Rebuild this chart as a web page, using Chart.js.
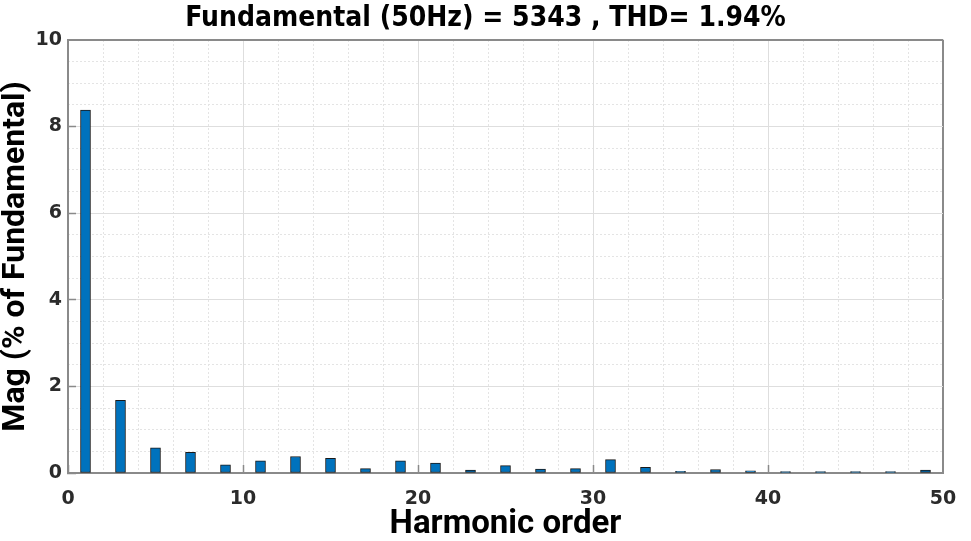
<!DOCTYPE html>
<html>
<head>
<meta charset="utf-8">
<script src="https://cdn.jsdelivr.net/npm/chart.js@4.4.1/dist/chart.umd.min.js"></script>
<style>
  html, body { margin: 0; padding: 0; background: #fff; }
  #wrap { width: 971px; height: 541px; }
</style>
</head>
<body>
<div id="wrap"><canvas id="thd" width="971" height="541"></canvas></div>
<script>
// FFT harmonic spectrum (odd harmonics only)

const harmonics = [1, 3, 5, 7, 9, 11, 13, 15, 17, 19, 21, 23, 25, 27, 29, 31, 33, 35, 37, 39, 41, 43, 45, 47, 49];
const magnitudes = [8.38, 1.68, 0.58, 0.48, 0.19, 0.28, 0.38, 0.34, 0.10, 0.28, 0.23, 0.07, 0.17,
  0.09, 0.10, 0.31, 0.13, 0.04, 0.08, 0.05, 0.03, 0.03, 0.03, 0.03, 0.07];
const xTicks = [0, 10, 20, 30, 40, 50];
const yTicks = [0, 2, 4, 6, 8, 10];

const titleText = "Fundamental (50Hz) = 5343 , THD= 1.94%";
const xTitle = "Harmonic order";
const yTitle = "Mag (% of Fundamental)";

const barColor = "#0072BD";
const axisColor = "#8a8a8a";
const gridColor = "#dedede";
const minorColor = "#e4e4e4";
const tickColor = "#2b2b2b";

const points = harmonics.map((h, i) => ({ x: h, y: magnitudes[i] }));

function setTicks(list) {
  return (scale) => { scale.ticks = list.map((v) => ({ value: v })); };
}

// last major line doubles as the top / right frame of the box
function edgeColor(max) {
  return (c) => (c.tick && c.tick.value === max ? axisColor : gridColor);
}
function edgeWidth(max) {
  return (c) => (c.tick && c.tick.value === max ? 2 : 1);
}

const ctx = document.getElementById("thd").getContext("2d");
new Chart(ctx, {
  type: "bar",
  data: {
    datasets: [
      {
        data: points,
        backgroundColor: barColor,
        borderColor: "#1a1a1a",
        borderWidth: 1,
        borderSkipped: false,
        barThickness: 10
      }
    ]
  },
  options: {
    responsive: false,
    animation: false,
    plugins: {
      legend: { display: false },
      tooltip: { enabled: false },
      title: {
        display: true,
        text: titleText,
        color: "#000",
        font: { family: "'Liberation Sans Narrow', 'DejaVu Sans Condensed', 'Roboto', sans-serif", size: 28, weight: "bold", lineHeight: 1.1 },
        padding: { top: 3, bottom: 6 }
      }
    },
    scales: {
      // minor dotted grid
      xMinor: {
        type: "linear",
        position: "top",
        offset: false,
        min: 0,
        max: 50,
        ticks: { display: false, stepSize: 2 },
        grid: { color: minorColor, lineWidth: 1, drawTicks: false, offset: false },
        border: { display: false, dash: [2, 2] },
        afterFit: (s) => { s.height = 0; }
      },
      yMinor: {
        type: "linear",
        position: "right",
        min: 0,
        max: 10,
        ticks: { display: false, stepSize: 0.5 },
        grid: { color: minorColor, lineWidth: 1, drawTicks: false },
        border: { display: false, dash: [2, 2] },
        afterFit: (s) => { s.width = 28; }
      },
      x: {
        type: "linear",
        position: "bottom",
        offset: false,
        min: 0,
        max: 50,
        afterBuildTicks: setTicks(xTicks),
        ticks: {
          color: tickColor,
          padding: 23,
          font: { family: "'DejaVu Sans', sans-serif", size: 19, weight: "bold" }
        },
        grid: {
          color: edgeColor(50),
          lineWidth: edgeWidth(50),
          offset: false,
          drawTicks: true,
          tickLength: -8,
          tickColor: axisColor,
          tickWidth: 1.5
        },
        border: { color: axisColor, width: 2 },
        title: {
          display: true,
          text: xTitle,
          color: "#000",
          font: { family: "Roboto, sans-serif", size: 33, weight: "bold", lineHeight: 1 },
          padding: { top: 0, bottom: 0 }
        },
        afterFit: (s) => {
          s.height = 68;
          s.paddingLeft = 0;
          s.paddingRight = 0;
        }
      },
      y: {
        type: "linear",
        position: "left",
        min: 0,
        max: 10,
        afterBuildTicks: setTicks(yTicks),
        ticks: {
          color: tickColor,
          padding: 14,
          font: { family: "'DejaVu Sans', sans-serif", size: 19, weight: "bold" }
        },
        grid: {
          color: edgeColor(10),
          lineWidth: edgeWidth(10),
          drawTicks: true,
          tickLength: -8,
          tickColor: axisColor,
          tickWidth: 1.5
        },
        border: { color: axisColor, width: 2 },
        title: {
          display: true,
          text: yTitle,
          color: "#000",
          font: { family: "Roboto, sans-serif", size: 32, weight: "bold", lineHeight: 1 },
          padding: { top: 0, bottom: 0 }
        },
        afterFit: (s) => { s.width = 68; }
      }
    }
  }
});
</script>
</body>
</html>
